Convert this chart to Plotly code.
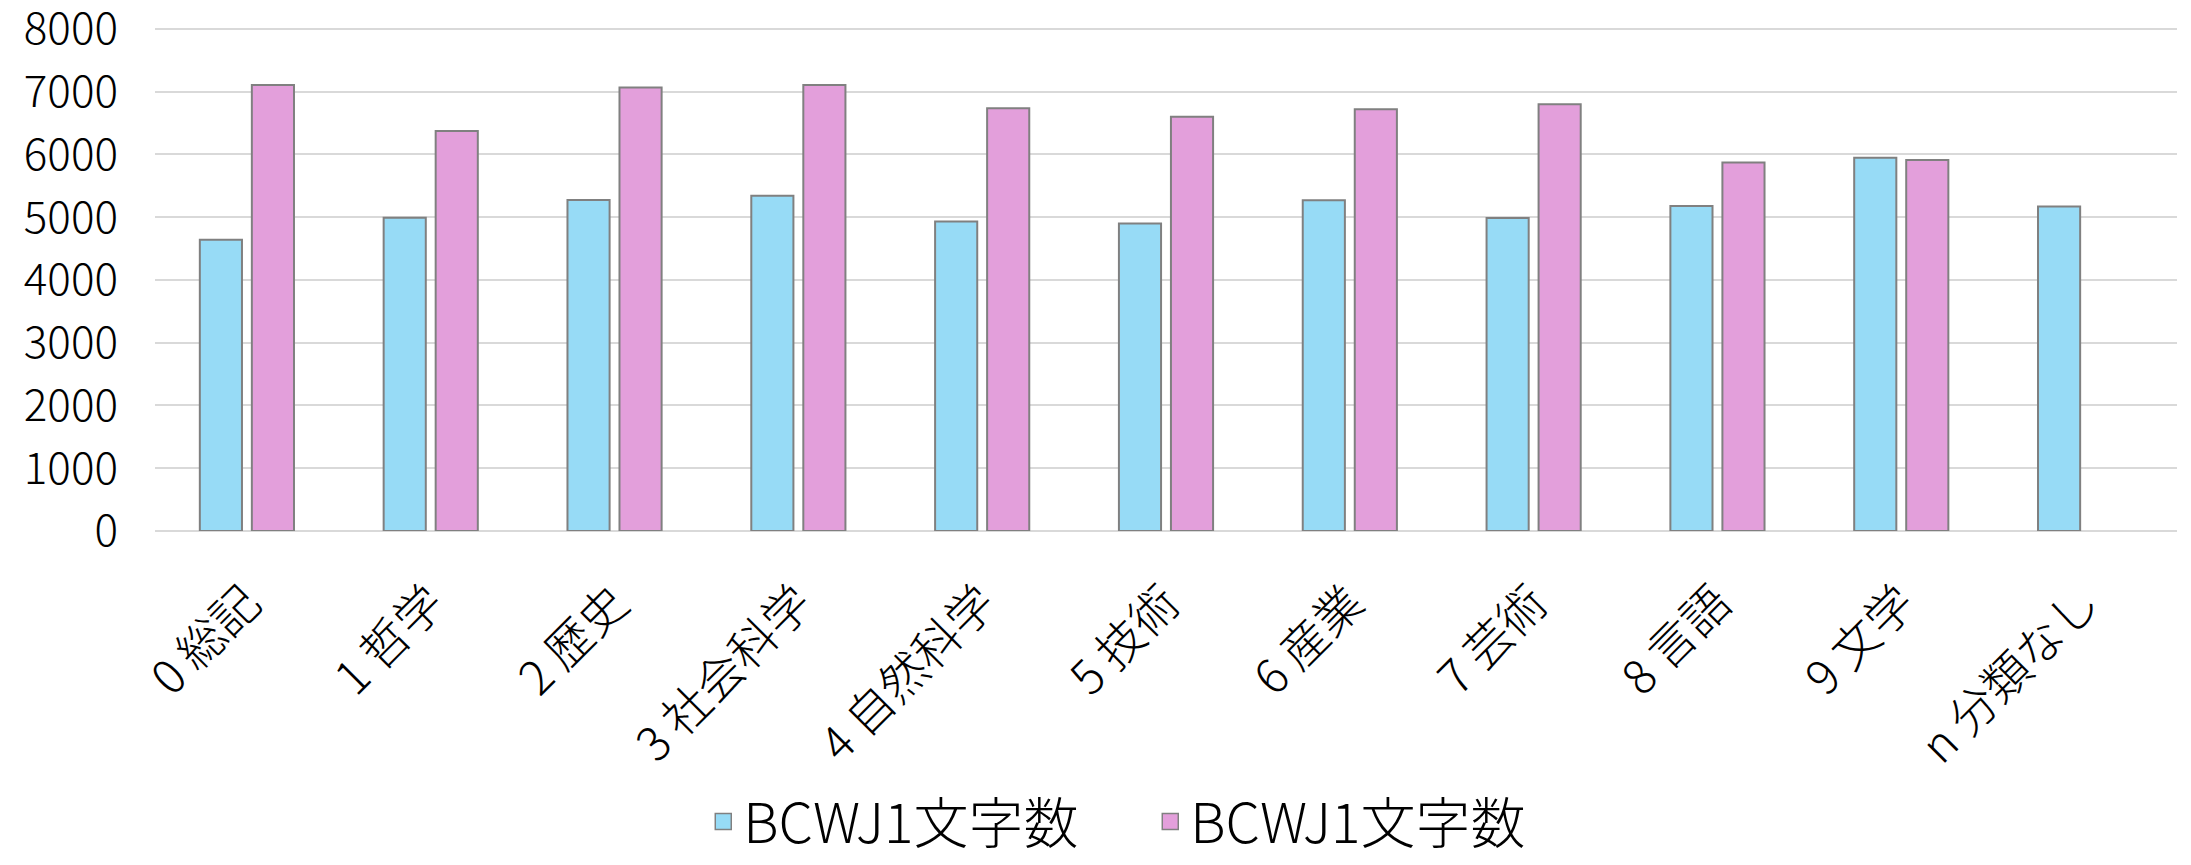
import plotly.graph_objects as go

categories = ["0 総記", "1 哲学", "2 歴史", "3 社会科学", "4 自然科学", "5 技術",
              "6 産業", "7 芸術", "8 言語", "9 文学", "n 分類なし"]
series1_name = "BCWJ1文字数"
series2_name = "BCWJ1文字数"
series1 = [4640, 4990, 5275, 5340, 4930, 4900, 5270, 4985, 5180, 5945, 5170]
series2 = [7105, 6375, 7065, 7105, 6735, 6600, 6720, 6800, 5870, 5910, None]
y_ticks = [0, 1000, 2000, 3000, 4000, 5000, 6000, 7000, 8000]

BLUE = "#97DBF6"
PINK = "#E39FDB"
EDGE = "#808080"
FONT = "Noto Sans CJK JP"

fig = go.Figure()
fig.add_trace(go.Bar(x=categories, y=series1, name=series1_name,
                     marker=dict(color=BLUE, line=dict(color=EDGE, width=2)),
                     showlegend=False))
fig.add_trace(go.Bar(x=categories, y=series2, name=series2_name,
                     marker=dict(color=PINK, line=dict(color=EDGE, width=2)),
                     showlegend=False))
# legend entries
fig.add_trace(go.Scatter(x=[None], y=[None], mode="markers", name=series1_name,
                         marker=dict(symbol="square", size=16, color=BLUE,
                                     line=dict(color=EDGE, width=1.5))))
fig.add_trace(go.Scatter(x=[None], y=[None], mode="markers", name=series2_name,
                         marker=dict(symbol="square", size=16, color=PINK,
                                     line=dict(color=EDGE, width=1.5))))

fig.update_layout(
    width=2191, height=865,
    margin=dict(l=155, r=14, t=27, b=334, autoexpand=False),
    paper_bgcolor="white", plot_bgcolor="white",
    font=dict(family=FONT, color="#000000", size=44, weight=300),
    barmode="group", bargap=0.434, bargroupgap=0.19,
    showlegend=True,
    legend=dict(orientation="h", xref="container", yref="container",
                x=0.525, xanchor="center", y=0.05, yanchor="middle",
                font=dict(family=FONT, size=55, color="#000000", weight=300),
                itemsizing="trace", traceorder="normal", entrywidth=402),
)
fig.update_xaxes(type="category", tickangle=-45, showgrid=False, showline=False,
                 zeroline=False, ticks="", tickfont=dict(size=47, family=FONT, weight=300),
                 ticklabelstandoff=34, automargin=False)
fig.update_yaxes(range=[0, 8030], tickvals=y_ticks, showgrid=True,
                 gridcolor="#D9D9D9", gridwidth=2, zeroline=True,
                 zerolinecolor="#D9D9D9", zerolinewidth=2, showline=False,
                 ticks="", tickfont=dict(size=44, family=FONT, weight=300),
                 ticklabelstandoff=36, ticklabeloverflow="allow", automargin=False)

fig.write_html("out.html")
